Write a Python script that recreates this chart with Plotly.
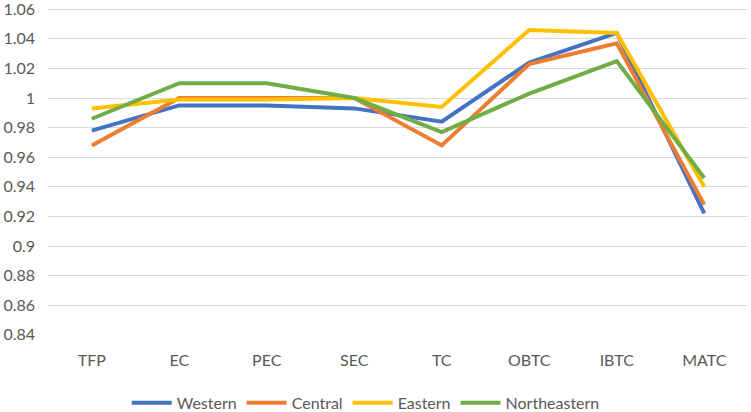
import plotly.graph_objects as go

categories = ["TFP", "EC", "PEC", "SEC", "TC", "OBTC", "IBTC", "MATC"]
western = [0.978, 0.995, 0.995, 0.993, 0.984, 1.024, 1.044, 0.922]
central = [0.968, 1.000, 1.000, 1.000, 0.968, 1.023, 1.037, 0.928]
eastern = [0.993, 0.999, 0.999, 1.000, 0.994, 1.046, 1.044, 0.940]
northeastern = [0.986, 1.010, 1.010, 1.000, 0.977, 1.003, 1.025, 0.946]
series_names = ["Western", "Central", "Eastern", "Northeastern"]
series_values = [western, central, eastern, northeastern]
colors = ["#4472C4", "#ED7D31", "#FFC000", "#70AD47"]
y_tickvals = [0.84, 0.86, 0.88, 0.90, 0.92, 0.94, 0.96, 0.98, 1.00, 1.02, 1.04, 1.06]
y_ticktext = ["0.84", "0.86", "0.88", "0.9", "0.92", "0.94", "0.96", "0.98", "1", "1.02", "1.04", "1.06"]

fig = go.Figure()
for name, vals, c in zip(series_names, series_values, colors):
    fig.add_trace(go.Scatter(x=categories, y=vals, mode="lines", name=name,
                             line=dict(color=c, width=4)))

font = dict(family="Lato, 'Open Sans', sans-serif", size=16, color="#595959")
fig.update_layout(
    width=751, height=412,
    margin=dict(l=48, r=3, t=7, b=77, autoexpand=False),
    paper_bgcolor="white", plot_bgcolor="white",
    font=font,
    showlegend=True,
    legend=dict(orientation="h", x=0.487, xanchor="center", xref="container",
                y=0.022, yanchor="middle", yref="container",
                font=font, itemwidth=40, tracegroupgap=0),
)
fig.update_xaxes(showgrid=False, showline=False, zeroline=False, ticks="",
                 range=[-0.5, 7.5], tickfont=font, ticklabelstandoff=14)
fig.update_yaxes(range=[0.8399, 1.0615], tickvals=y_tickvals, ticktext=y_ticktext,
                 showgrid=True, gridcolor="#D9D9D9", gridwidth=1, zeroline=False,
                 showline=False, ticks="", tickfont=font, ticklabelstandoff=12,
                 ticklabeloverflow="allow")

fig.write_html("out.html")
